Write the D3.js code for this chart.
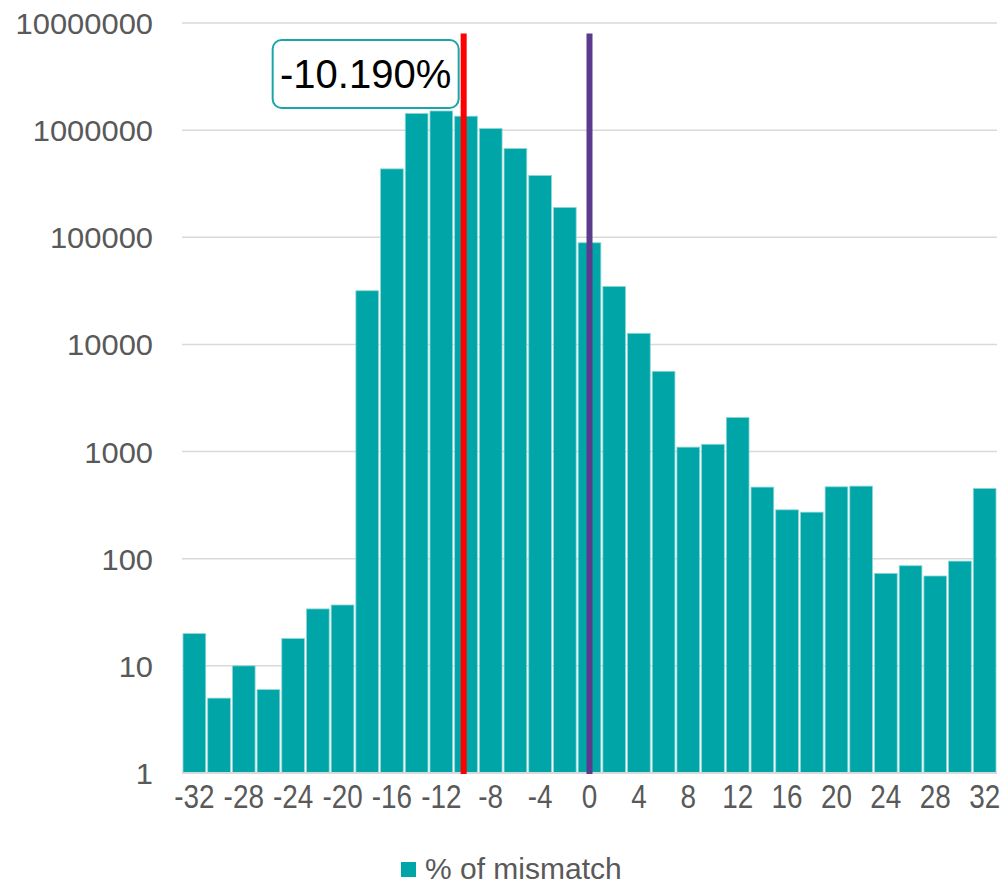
<!DOCTYPE html>
<html lang="en">
<head>
  <meta charset="UTF-8">
  <title>% of mismatch histogram</title>
  <script src="https://d3js.org/d3.v7.min.js"></script>
</head>
<body style="margin:0;background:#fff;">

  <div id="chart"></div>

  <script type="text/javascript">

// bins of % mismatch and their counts (log scale)
const bins = [-32, -30, -28, -26, -24, -22, -20, -18, -16, -14, -12, -10, -8, -6, -4, -2,
  0, 2, 4, 6, 8, 10, 12, 14, 16, 18, 20, 22, 24, 26, 28, 30, 32];
const counts = [20, 5, 10, 6, 18, 34, 37, 31700, 435000, 1430000, 1510000, 1350000, 1035000, 673000, 377000, 190000,
  88900, 34800, 12700, 5610, 1100, 1170, 2080, 466, 286, 272, 469, 476, 73, 86, 69, 95, 453];
const xTickLabels = [-32, -28, -24, -20, -16, -12, -8, -4, 0, 4, 8, 12, 16, 20, 24, 28, 32];
const yTickValues = [1, 10, 100, 1000, 10000, 100000, 1000000, 10000000];
const meanLine = -10.19;
const zeroLine = 0;
const seriesName = "% of mismatch";

const margin = ({top: 23, right: 8, bottom: 112, left: 182});
const w = 1005;
const h = 885;
const gw = w - margin.left - margin.right;
const gh = h - margin.top - margin.bottom;

const svg = d3.select("#chart").append("svg")
  .attr("width", w)
  .attr("height", h)
  .style("font-family", "'Liberation Sans', Arial, sans-serif");

const graph = svg.append("g")
  .attr("transform", `translate(${margin.left},${margin.top})`);

const x = d3.scaleBand()
  .domain(bins)
  .range([0, gw])
  .paddingInner(0.08)
  .paddingOuter(0.04);

// continuous x for the vertical reference lines
const xv = d3.scaleLinear()
  .domain([-33, 33])
  .range([0, gw]);

const y = d3.scaleLog()
  .domain([1, 10000000])
  .range([gh, 0]);

// grid
graph.append("g")
  .selectAll("line")
  .data(yTickValues.slice(1))
  .enter()
  .append("line")
    .attr("x1", 0)
    .attr("x2", gw)
    .attr("y1", d => y(d))
    .attr("y2", d => y(d))
    .attr("stroke", "#d9d9d9")
    .attr("stroke-width", 1.5);

// bars
graph.selectAll("rect.bar")
  .data(bins)
  .enter()
  .append("rect")
    .attr("class", "bar")
    .attr("x", d => x(d))
    .attr("width", x.bandwidth())
    .attr("y", (d, i) => y(counts[i]))
    .attr("height", (d, i) => gh - y(counts[i]))
    .attr("fill", "#00a6a7")
    .attr("stroke", "#8fd6d6")
    .attr("stroke-width", 0.8);

// baseline
graph.append("line")
  .attr("x1", 0)
  .attr("x2", gw)
  .attr("y1", gh)
  .attr("y2", gh)
  .attr("stroke", "#d9d9d9")
  .attr("stroke-width", 2);

// reference lines
const lineTop = y(8000000);
graph.append("line")
  .attr("x1", xv(meanLine)).attr("x2", xv(meanLine))
  .attr("y1", lineTop).attr("y2", gh + 1)
  .attr("stroke", "#ff0000")
  .attr("stroke-width", 6);

graph.append("line")
  .attr("x1", xv(zeroLine)).attr("x2", xv(zeroLine))
  .attr("y1", lineTop).attr("y2", gh + 1)
  .attr("stroke", "#5c3a8c")
  .attr("stroke-width", 6);

// value label box
const boxW = 186, boxH = 68;
const boxX = xv(meanLine) - 5 - boxW;
const boxY = 17;
graph.append("rect")
  .attr("x", boxX)
  .attr("y", boxY)
  .attr("width", boxW)
  .attr("height", boxH)
  .attr("rx", 9)
  .attr("fill", "#fff")
  .attr("stroke", "#1aa6a8")
  .attr("stroke-width", 2);

graph.append("text")
  .attr("x", boxX + boxW / 2)
  .attr("y", boxY + boxH / 2 + 14)
  .attr("text-anchor", "middle")
  .attr("font-size", 40)
  .attr("fill", "#000")
  .text(meanLine.toFixed(3) + "%");

// y axis labels
graph.append("g")
  .selectAll("text")
  .data(yTickValues)
  .enter()
  .append("text")
    .attr("transform", d => `translate(-29,${y(d) + 11}) scale(1.03,1)`)
    .attr("text-anchor", "end")
    .attr("font-size", 30)
    .attr("fill", "#595959")
    .text(d => d);

// x axis labels
graph.append("g")
  .selectAll("text")
  .data(xTickLabels)
  .enter()
  .append("text")
    .attr("transform", d => `translate(${x(d) + x.bandwidth() / 2},${gh + 35}) scale(0.82,1)`)
    .attr("text-anchor", "middle")
    .attr("font-size", 34)
    .attr("fill", "#595959")
    .text(d => d);

// legend
const legend = svg.append("g")
  .attr("transform", "translate(401,862)");
legend.append("rect")
  .attr("width", 15)
  .attr("height", 15)
  .attr("fill", "#00a6a7");
legend.append("text")
  .attr("x", 24)
  .attr("y", 17)
  .attr("font-size", 30)
  .attr("fill", "#595959")
  .text(seriesName);

  </script>
</body>
</html>
